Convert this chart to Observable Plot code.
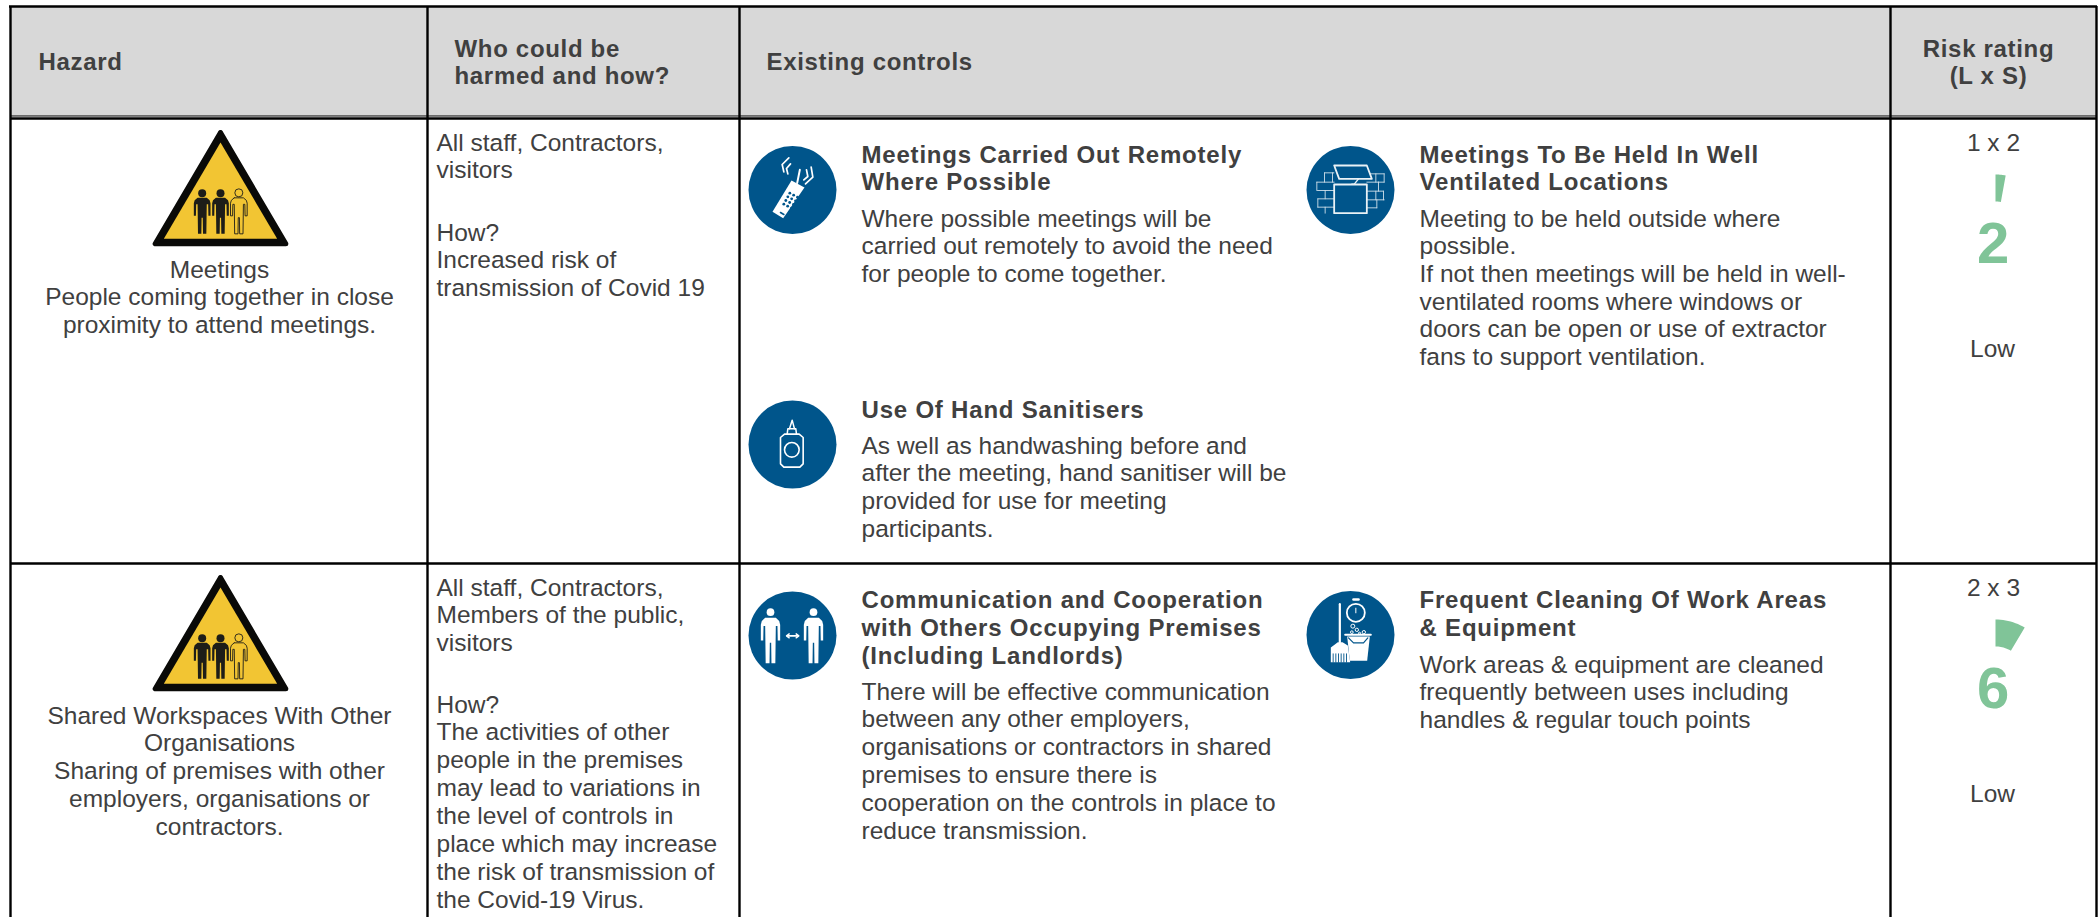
<!DOCTYPE html>
<html>
<head>
<meta charset="utf-8">
<script src="https://cdn.jsdelivr.net/npm/d3@7"></script>
<script src="https://cdn.jsdelivr.net/npm/@observablehq/plot@0.6"></script>
<style>
html,body{margin:0;padding:0;background:#fff;overflow:hidden}
.spaced text{letter-spacing:.68px}
.titled text{letter-spacing:.8px}
</style>
</head>
<body>
<div id="chart"></div>
<script>
// ---------- table content ----------
const headerHazard = ["Hazard"];
const headerWho = ["Who could be", "harmed and how?"];
const headerControls = ["Existing controls"];
const headerRisk = ["Risk rating", "(L x S)"];

const hazard1 = ["Meetings", "People coming together in close", "proximity to attend meetings."];
const hazard2 = ["Shared Workspaces With Other", "Organisations", "Sharing of premises with other", "employers, organisations or", "contractors."];

const who1 = ["All staff, Contractors,", "visitors"];
const how1 = ["How?", "Increased risk of", "transmission of Covid 19"];
const who2 = ["All staff, Contractors,", "Members of the public,", "visitors"];
const how2 = ["How?", "The activities of other", "people in the premises", "may lead to variations in", "the level of controls in", "place which may increase", "the risk of transmission of", "the Covid-19 Virus."];

const titleRemote = ["Meetings Carried Out Remotely", "Where Possible"];
const bodyRemote = ["Where possible meetings will be", "carried out remotely to avoid the need", "for people to come together."];
const titleVent = ["Meetings To Be Held In Well", "Ventilated Locations"];
const bodyVent = ["Meeting to be held outside where", "possible.", "If not then meetings will be held in well-", "ventilated rooms where windows or", "doors can be open or use of extractor", "fans to support ventilation."];
const titleSanit = ["Use Of Hand Sanitisers"];
const bodySanit = ["As well as handwashing before and", "after the meeting, hand sanitiser will be", "provided for use for meeting", "participants."];
const titleComm = ["Communication and Cooperation", "with Others Occupying Premises", "(Including Landlords)"];
const bodyComm = ["There will be effective communication", "between any other employers,", "organisations or contractors in shared", "premises to ensure there is", "cooperation on the controls in place to", "reduce transmission."];
const titleClean = ["Frequent Cleaning Of Work Areas", "& Equipment"];
const bodyClean = ["Work areas & equipment are cleaned", "frequently between uses including", "handles & regular touch points"];

const riskLikelihood = [1, 2];
const riskSeverity = [2, 3];
const riskLabels = ["Low", "Low"];

// ---------- palette and layout ----------
const ink = "#404040", green = "#80c498", blue = "#00558b", amber = "#f2c533";
const font = "Liberation Sans";
const size = 24.5, boldSize = 24, leading = 27.7;
const columnEdges = [10, 427, 739, 1890, 2096];
const marks = [];

function textBlock(lines, x, y, o = {}) {
  const {step = leading, bold = false, anchor = "start", fs = bold ? boldSize : size, fill = ink, cls = bold ? "spaced" : undefined} = o;
  const rows = lines.map((t, i) => ({t, x, y: y + i * step}));
  marks.push(Plot.text(rows, {
    x: "x", y: "y", text: "t", textAnchor: anchor, lineAnchor: "bottom",
    fontSize: fs, fontWeight: bold ? "bold" : "normal", fill,
    className: cls
  }));
}
// A glyph polygon written in crop-pixel units (3 per page pixel) from an origin
function glyph(ox, oy, pts, o = {}) {
  const rows = pts.map(([a, b]) => ({x: ox + a / 3, y: oy + b / 3}));
  marks.push(Plot.line(rows, {x: "x", y: "y", fill: "none", stroke: "none", strokeLinejoin: "round", strokeLinecap: "round", curve: "linear", ...o}));
}
function round(ox, oy, a, b, r, o = {}) {
  marks.push(Plot.dot([{x: ox + a / 3, y: oy + b / 3}], {x: "x", y: "y", r: r / 3, stroke: "none", fill: "none", ...o}));
}
function disc(x, y, r = 44) {
  marks.push(Plot.dot([{x, y}], {x: "x", y: "y", r, fill: blue}));
}

// ---------- table frame ----------
marks.push(Plot.rect([{}], {x1: () => columnEdges[0], x2: () => columnEdges[4], y1: () => 6, y2: () => 116, fill: "#d8d8d8"}));
const w = {stroke: "#000", strokeWidth: 2.4};
marks.push(Plot.ruleY([6], {x1: columnEdges[0] - 1, x2: columnEdges[4] + 1, ...w}));
marks.push(Plot.ruleY([115.5], {x1: columnEdges[0], x2: columnEdges[4], stroke: "#000", strokeWidth: 1.2}));
marks.push(Plot.ruleY([118], {x1: columnEdges[0], x2: columnEdges[4], ...w}));
marks.push(Plot.ruleY([563], {x1: columnEdges[0], x2: columnEdges[4], ...w}));
marks.push(Plot.ruleX(columnEdges, {y1: 6, y2: 917, ...w}));

// ---------- header ----------
textBlock(headerHazard, 38, 69, {bold: true});
textBlock(headerWho, 454, 56, {bold: true});
textBlock(headerControls, 766, 69, {bold: true});
textBlock(headerRisk, 1988, 56, {bold: true, anchor: "middle"});

// ---------- hazard column ----------
const person = [[-.55,0],[.55,0],[.9,.07],[1,.15],[1,.5],[.75,.5],[.72,.18],[.55,.18],[.5,1],[.1,1],[.07,.55],[-.07,.55],[-.1,1],[-.5,1],[-.55,.18],[-.72,.18],[-.75,.5],[-1,.5],[-1,.15],[-.9,.07],[-.55,0]];
const scaled = (cx, top, hw, h) => person.map(([a, b]) => [cx + a * hw, top + b * h]);
function warning(ox, oy) {
  glyph(ox, oy, [[270,36],[74,370],[466,370],[270,36]], {fill: "#0a0a08", stroke: "#0a0a08", strokeWidth: 5});
  glyph(ox, oy, [[270,66],[100,355],[440,355],[270,66]], {fill: amber});
  for (const cx of [215, 270]) {
    round(ox, oy, cx, 218, 12, {fill: "#1d1d18"});
    glyph(ox, oy, scaled(cx, 232, 25, 108), {fill: "#1d1d18"});
  }
  round(ox, oy, 325, 217, 12, {stroke: "#1d1d18", strokeWidth: .9});
  glyph(ox, oy, scaled(325, 232, 25, 108), {stroke: "#1d1d18", strokeWidth: .9});
}
warning(130, 120);
warning(130, 565);
textBlock(hazard1, 219, 277, {anchor: "middle"});
textBlock(hazard2, 219, 723, {anchor: "middle", step: 27.8});

// ---------- who column ----------
textBlock(who1, 436, 150);
textBlock(how1, 436, 240);
textBlock(who2, 436, 595);
textBlock(how2, 436, 712, {step: 27.9});

// ---------- controls: row 1 ----------
disc(792, 189.5);
const W = {stroke: "#fff"};
glyph(740, 140, [[153,120],[192,141],[128,233],[96,214],[153,120]], {fill: "#fff"});
glyph(740, 140, [[170,128],[178,88]], {...W, strokeWidth: 2});
glyph(740, 140, [[142,100],[138,84],[150,70]], {...W, strokeWidth: 1.7});
glyph(740, 140, [[130,94],[125,72],[145,52]], {...W, strokeWidth: 1.7});
glyph(740, 140, [[190,118],[202,108],[198,88]], {...W, strokeWidth: 1.7});
glyph(740, 140, [[195,130],[217,110],[212,80]], {...W, strokeWidth: 1.7});
for (const [i, j] of d3.cross(d3.range(4), d3.range(3))) {
  round(740, 140, 148 + j * 11.5 - i * 6, 158 + i * 11 + j * 6, 4.2, {fill: blue});
}
glyph(740, 140, [[120,216],[130,222]], {stroke: blue, strokeWidth: 1.6});

disc(1350, 189.5);
const B = {stroke: "#cfe0ea", strokeWidth: .9};
for (const seg of [[[78,97],[107,97],[107,97]],[[55,125],[107,125]],[[57,150],[107,150]],[[58,175],[107,175]],[[58,200],[107,200]],
  [[78,97],[78,125]],[[55,125],[55,150]],[[80,150],[80,175]],[[58,175],[58,200]],[[80,200],[80,218]],[[102,97],[102,125]],
  [[205,100],[257,100]],[[205,125],[240,125]],[[205,152],[255,152]],[[205,178],[257,178]],[[205,202],[235,202]],
  [[257,100],[257,125]],[[232,100],[232,125]],[[240,125],[240,152]],[[232,152],[232,178]],[[255,152],[255,178]],[[235,178],[235,202]],[[257,125],[240,125]]]) {
  glyph(1298, 140, seg, B);
}
glyph(1298, 140, [[107,132],[205,132],[205,218],[107,218],[107,132]], {fill: blue, stroke: "#eaf2f6", strokeWidth: 1.8});
glyph(1298, 140, [[107,75],[205,75],[220,115],[122,115],[107,75]], {fill: blue, stroke: "#eaf2f6", strokeWidth: 1.8});
glyph(1298, 140, [[180,115],[168,130],[160,131]], {stroke: "#eaf2f6", strokeWidth: 1.4});

disc(792, 444);
glyph(740, 395, [[132,116],[176,116],[188,126],[188,205],[178,215],[130,215],[120,205],[120,126],[132,116]], {stroke: "#fff", strokeWidth: 1.6});
round(740, 395, 154, 163, 22, {stroke: "#fff", strokeWidth: 1.6});
glyph(740, 395, [[140,116],[142,100],[166,100],[168,116]], {stroke: "#fff", strokeWidth: 1.5});
glyph(740, 395, [[147,100],[155,74],[162,100]], {stroke: "#fff", strokeWidth: 1.5});

textBlock(titleRemote, 861, 162, {bold: true, cls: "titled", step: 27.3});
textBlock(bodyRemote, 861, 226);
textBlock(titleVent, 1419, 162, {bold: true, cls: "titled", step: 27.3});
textBlock(bodyVent, 1419, 226);
textBlock(titleSanit, 861, 417, {bold: true, cls: "titled"});
textBlock(bodySanit, 861, 453);

// ---------- controls: row 2 ----------
disc(792, 635);
for (const cx of [90, 219]) {
  round(740, 585, cx, 80, 11.5, {fill: "#fff"});
  glyph(740, 585, scaled(cx, 97, 29, 136), {fill: "#fff"});
}
glyph(740, 585, [[140,151],[172,151]], {stroke: "#fff", strokeWidth: 1.6});
glyph(740, 585, [[146,145],[138,151],[146,157]], {stroke: "#fff", strokeWidth: 1.4});
glyph(740, 585, [[167,145],[175,151],[167,157]], {stroke: "#fff", strokeWidth: 1.4});

disc(1350, 634.5);
glyph(1298, 585, [[124,56],[124,170]], {stroke: "#fff", strokeWidth: 2.2});
round(1298, 585, 172, 82, 27, {stroke: "#fff", strokeWidth: 1.8});
glyph(1298, 585, [[165,42],[180,42]], {stroke: "#fff", strokeWidth: 2.6});
glyph(1298, 585, [[172,68],[172,82]], {stroke: "#fff", strokeWidth: 1});
glyph(1298, 585, [[118,170],[132,170],[148,180],[155,230],[97,230],[97,186],[118,170]], {fill: "#fff"});
for (const x of [104, 112, 120, 128, 136, 144]) glyph(1298, 585, [[x,205],[x,230]], {stroke: blue, strokeWidth: .9});
glyph(1298, 585, [[146,153],[214,153],[206,226],[154,226],[146,153]], {fill: "#fff"});
glyph(1298, 585, [[140,148],[217,148]], {stroke: "#fff", strokeWidth: 2});
glyph(1298, 585, [[150,157],[165,172],[195,172],[208,157]], {stroke: blue, strokeWidth: 1.2});
for (const [a, b, r] of [[163,122,6],[175,133,5],[196,140,5],[160,140,4],[183,143,3]]) round(1298, 585, a, b, r, {stroke: "#fff", strokeWidth: 1});

textBlock(titleComm, 861, 607, {bold: true, cls: "titled", step: 28});
textBlock(bodyComm, 861, 699, {step: 27.8});
textBlock(titleClean, 1419, 607, {bold: true, cls: "titled", step: 28});
textBlock(bodyClean, 1419, 672);

// ---------- risk gauges, one per row ----------
const angle = d3.scaleLinear([0, 25], [0, 128.5]);
const rowShift = [0, 445];
riskLikelihood.forEach((l, i) => {
  const dy = rowShift[i], score = l * riskSeverity[i];
  textBlock([`${l} x ${riskSeverity[i]}`], 1993, 150 + dy, {anchor: "middle"});
  const cx = 1995, cy = 231 + dy, R = 57, r = 30;
  const sweep = d3.range(0, 13).map(k => angle(score) * k / 12 * Math.PI / 180);
  const ring = [
    ...sweep.map(t => ({x: cx + R * Math.sin(t), y: cy - R * Math.cos(t)})),
    ...sweep.slice().reverse().map(t => ({x: cx + r * Math.sin(t), y: cy - r * Math.cos(t)}))
  ];
  ring.push(ring[0]);
  marks.push(Plot.line(ring, {x: "x", y: "y", fill: green, stroke: "none", curve: "linear"}));
  textBlock([String(score)], 1993, 262 + dy, {anchor: "middle", bold: true, cls: undefined, fs: 58, fill: green});
  textBlock([riskLabels[i]], 1992, 356 + dy, {anchor: "middle"});
});

const svg = Plot.plot({
  width: 2100, height: 917, margin: 0,
  x: {domain: [0, 2100], range: [0, 2100], axis: null},
  y: {domain: [0, 917], range: [0, 917], axis: null},
  style: {background: "#fff", fontFamily: font},
  marks
});
document.getElementById("chart").appendChild(svg);
</script>
</body>
</html>
